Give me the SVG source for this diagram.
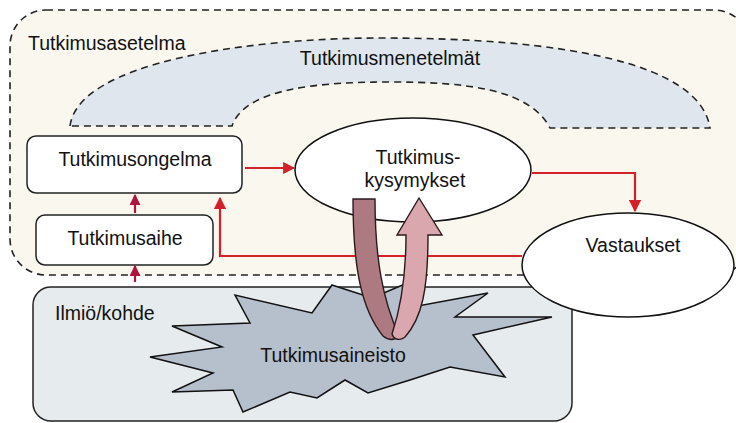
<svg xmlns="http://www.w3.org/2000/svg" width="736" height="423" viewBox="0 0 736 423">
<style>
text{font-family:"Liberation Sans",Arial,sans-serif;font-size:19.5px;fill:#111}
.dash{fill:none;stroke:#222;stroke-width:1.6;stroke-dasharray:7 5}
.box{fill:#fff;stroke:#222;stroke-width:1.5}
.red{fill:none;stroke:#d42028;stroke-width:2.2}
.dk{fill:none;stroke:#b0143c;stroke-width:2.2}
</style>
<defs>
<marker id="ar" viewBox="0 0 10 10" refX="9" refY="5" markerWidth="5.5" markerHeight="5.5" orient="auto" markerUnits="strokeWidth"><path d="M0,0 L10,5 L0,10 Z" fill="#d42028"/></marker>
<marker id="ad" viewBox="0 0 10 10" refX="9" refY="5" markerWidth="5" markerHeight="5" orient="auto" markerUnits="strokeWidth"><path d="M0,0 L10,5 L0,10 Z" fill="#b0143c"/></marker>
</defs>
<rect width="736" height="423" fill="#fff"/>
<g id="tutkimusasetelma">
<rect x="10" y="10" width="740" height="265" rx="36" fill="#faf8ee" stroke="#222" stroke-width="1.6" stroke-dasharray="7 5"/>
<text x="28" y="50">Tutkimusasetelma</text>
</g>
<g id="tutkimusmenetelmat">
<path d="M70,126 C78,62 250,38 380,38 C560,38 700,62 710,128 L550,128 C530,90 470,82 390,82 C320,82 245,88 232,126 Z" fill="#dfe6ed" stroke="none"/>
<path class="dash" d="M70,126 C78,62 250,38 380,38 C560,38 700,62 710,128 L550,128 C530,90 470,82 390,82 C320,82 245,88 232,126 Z"/>
<text x="390" y="65" text-anchor="middle">Tutkimusmenetelmät</text>
</g>
<g id="tutkimusongelma">
<rect class="box" x="27" y="136" width="215" height="57" rx="9"/>
<text x="135" y="166" text-anchor="middle">Tutkimusongelma</text>
</g>
<g id="tutkimusaihe">
<rect class="box" x="36" y="215" width="177" height="50" rx="9"/>
<text x="125" y="245" text-anchor="middle">Tutkimusaihe</text>
</g>
<g id="ilmio">
<rect x="33" y="287" width="539" height="134" rx="18" fill="#e6ebee" stroke="#222" stroke-width="1.5"/>
<text x="55" y="320">Ilmiö/kohde</text>
</g>
<g id="tutkimusaineisto">
<polygon points="332,285 372,298 405,284 418,306 488,293 455,317 552,317 473,335 505,377 450,367 410,380 368,393 345,380 317,398 290,392 243,412 233,390 172,392 213,373 150,357 222,347 172,326 250,323 235,295 312,313" fill="#b6bfcc" stroke="#111" stroke-width="1.5" stroke-linejoin="miter"/>
<text x="333" y="362" text-anchor="middle" font-size="19">Tutkimusaineisto</text>
</g>
<g id="connectors">
<line class="red" x1="245" y1="168" x2="294" y2="168" marker-end="url(#ar)"/>
<polyline class="red" points="532,173 635,173 635,211" marker-end="url(#ar)"/>
<polyline class="red" points="522,256 220,256 220,198" marker-end="url(#ar)"/>
<line class="dk" x1="135" y1="213" x2="135" y2="195" marker-end="url(#ad)"/>
<line class="dk" x1="135" y1="282" x2="135" y2="266" marker-end="url(#ad)"/>
</g>
<g id="tutkimuskysymykset">
<ellipse cx="413" cy="170" rx="118" ry="52" fill="#fff" stroke="#111" stroke-width="1.5"/>
<text x="418" y="164" text-anchor="middle">Tutkimus-</text>
<text x="415" y="187" text-anchor="middle">kysymykset</text>
</g>
<g id="kiertonuoli">
<path d="M353,199 L375,199 C375,260 383,300 399,336 C394,341 388,340 383,336 C362,310 353,270 353,199 Z" fill="#ad7a82" stroke="#2a1a1c" stroke-width="1.4"/>
<path d="M406,235 L397,235 L419,198 L442,235 L428,235 C428,290 422,318 405,337 C400,341 394,340 392,334 C400,310 406,280 406,235 Z" fill="#dba7ae" stroke="#2a1a1c" stroke-width="1.4"/>
</g>
<g id="vastaukset">
<ellipse cx="628" cy="265" rx="106" ry="52" fill="#fff" stroke="#111" stroke-width="1.5"/>
<text x="633" y="252" text-anchor="middle">Vastaukset</text>
</g>
</svg>
